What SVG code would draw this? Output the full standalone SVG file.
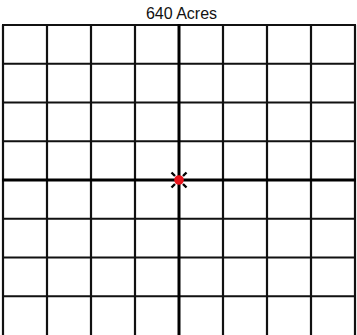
<svg xmlns="http://www.w3.org/2000/svg" width="357" height="335" viewBox="0 0 357 335">
<style>
.g{stroke:#111;stroke-width:2.2;fill:none}
.c{stroke:#000;stroke-width:3;fill:none}
.t{font-family:"Liberation Sans",Arial,sans-serif;font-size:16px;fill:#111}
</style>
<rect width="357" height="335" fill="#fff"/>
<text class="t" x="181.5" y="19" text-anchor="middle">640 Acres</text>
<g id="grid">
<path class="g" d="M3,25V340M47,25V340M91,25V340M135,25V340M223,25V340M267,25V340M311,25V340M355,25V340"/>
<path class="g" d="M2,25H356M2,63.75H356M2,102.5H356M2,141.25H356M2,218.75H356M2,257.5H356M2,296.25H356"/>
</g>
<g id="axes">
<path class="c" d="M179,24V340M2,180H356"/>
</g>
<g id="center">
<path d="M175,176l-3.5,-3.5M183,176l3.5,-3.5M175,184l-3.5,3.5M183,184l3.5,3.5" stroke="#000" stroke-width="2.4"/>
<circle cx="179" cy="180" r="4.8" fill="#e8141c"/>
</g>
</svg>
